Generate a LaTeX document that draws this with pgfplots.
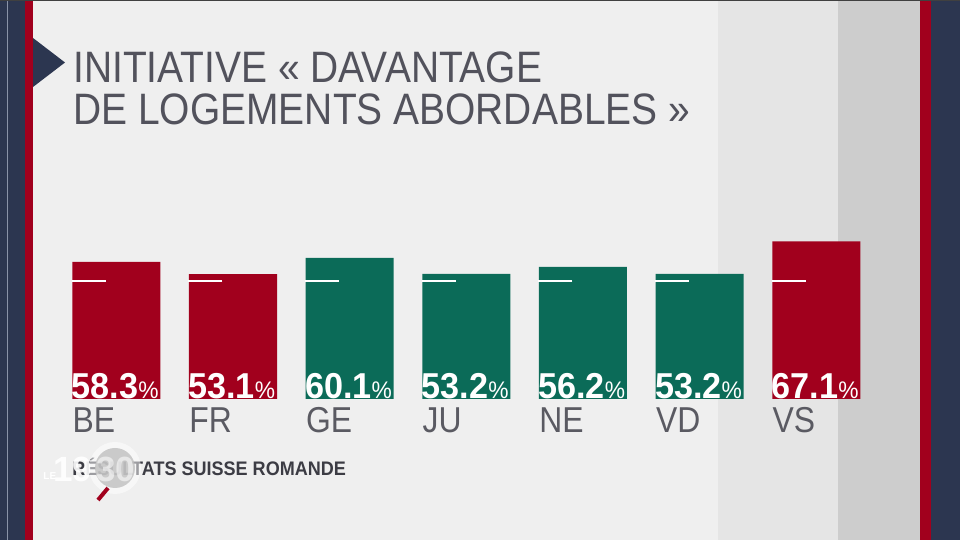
\documentclass[border=0pt]{standalone}
\usepackage{fontspec}
\setmainfont{Liberation Sans}
\newfontfamily\titlefont{Liberation Sans}[FakeStretch=0.885]
\newfontfamily\valfont{Liberation Sans}[FakeStretch=0.95]
\newfontfamily\subfont{Liberation Sans}[FakeStretch=0.92]
\newfontfamily\logofont{Liberation Sans}
\usepackage{pgfplots}
\pgfplotsset{compat=1.18}
\definecolor{bgcol}{HTML}{EFEFEF}
\definecolor{panelA}{HTML}{E5E5E5}
\definecolor{panelB}{HTML}{CDCDCD}
\definecolor{srfred}{HTML}{A1001D}
\definecolor{srfgreen}{HTML}{0B6B58}
\definecolor{navy}{HTML}{2C3650}
\definecolor{navyline}{HTML}{8A93A8}
\definecolor{titlegray}{HTML}{52525C}
\definecolor{labgray}{HTML}{5A5A62}
\definecolor{subgray}{HTML}{3C3C44}
\begin{document}
\begin{tikzpicture}
\path[use as bounding box] (0,0) rectangle (480pt,270pt);
\begin{scope}[x=0.5pt,y=0.5pt]
  \fill[bgcol] (0,0) rectangle (960,540);
  \fill[panelA] (718,0) rectangle (838,540);
  \fill[panelB] (838,0) rectangle (920,540);
  \fill[srfred] (920,0) rectangle (931,540);
  \fill[navy] (931,0) rectangle (960,540);
  \fill[navy] (0,0) rectangle (25,540);
  \fill[navyline] (6.5,0) rectangle (8,540);
  \fill[srfred] (25,0) rectangle (33,540);
  \fill[navy] (33,502) -- (65,477.5) -- (33,453) -- cycle;
  \fill[black!75] (0,538.5) rectangle (960,540);
  \node[anchor=base west, inner sep=0pt, text=titlegray, font=\titlefont\fontsize{22}{22}\selectfont] at (73,457) {INITIATIVE « DAVANTAGE};
  \node[anchor=base west, inner sep=0pt, text=titlegray, font=\titlefont\fontsize{22}{22}\selectfont] at (73,415) {DE LOGEMENTS ABORDABLES »};
  \node[anchor=base west, inner sep=0pt, text=subgray, font=\subfont\bfseries\fontsize{9.8}{10}\selectfont] at (72,64.3) {RÉSULTATS SUISSE ROMANDE};
\end{scope}
\begin{axis}[
  at={(29pt,70.5pt)}, anchor=south west,
  scale only axis, width=408.33pt, height=117.5pt,
  xmin=-0.5, xmax=6.5, ymin=0, ymax=100,
  axis line style={draw=none},
  ytick=\empty,
  xtick={0,1,2,3,4,5,6},
  xticklabels={BE,FR,GE,JU,NE,VD,VS},
  major tick length=0pt,
  xticklabel style={anchor=base west, inner sep=0pt, xshift=-22pt, yshift=-17pt, text=labgray, font=\titlefont\fontsize{18}{18}\selectfont},
  clip=false,
]
\addplot[ybar, bar width=44pt, bar shift=0pt, fill=srfred, draw=none] coordinates {(0,58.3) (1,53.1) (6,67.1)};
\addplot[ybar, bar width=44pt, bar shift=0pt, fill=srfgreen, draw=none] coordinates {(2,60.1) (3,53.2) (4,56.2) (5,53.2)};
\addplot[only marks, mark=-, mark size=8.5pt, mark options={draw=white, line width=1pt, xshift=-13.75pt}] coordinates {(0,50) (1,50) (2,50) (3,50) (4,50) (5,50) (6,50)};
\addplot[draw=none, mark=none, point meta=explicit symbolic,
  nodes near coords={\pgfplotspointmeta{\fontsize{12}{12}\selectfont\mdseries\%}},
  every node near coord/.append style={anchor=base west, inner sep=0pt, xshift=-22.5pt, text=white, font=\valfont\bfseries\fontsize{18}{18}\selectfont}]
  coordinates {(0,0) [58.3] (1,0) [53.1] (2,0) [60.1] (3,0) [53.2] (4,0) [56.2] (5,0) [53.2] (6,0) [67.1]};
\end{axis}
\begin{scope}[x=0.5pt,y=0.5pt]
  \fill[white, opacity=0.5] (115,72) circle (26);
  \fill[gray!50, opacity=0.8] (115,72) circle (20);
  \draw[srfred, line width=2pt] (98,40) -- (108,52);
  \node[anchor=base west, inner sep=0pt, text=white, font=\logofont\bfseries\fontsize{5}{5}\selectfont] at (43,60) {LE};
  \node[anchor=base west, inner sep=0pt, text=white, opacity=0.9, font=\logofont\bfseries\fontsize{17.5}{17.5}\selectfont] at (53,58) {19};
  \node[anchor=base west, inner sep=0pt, text=white, opacity=0.55, font=\logofont\bfseries\fontsize{17.5}{17.5}\selectfont] at (96,58) {30};
\end{scope}
\end{tikzpicture}
\end{document}
